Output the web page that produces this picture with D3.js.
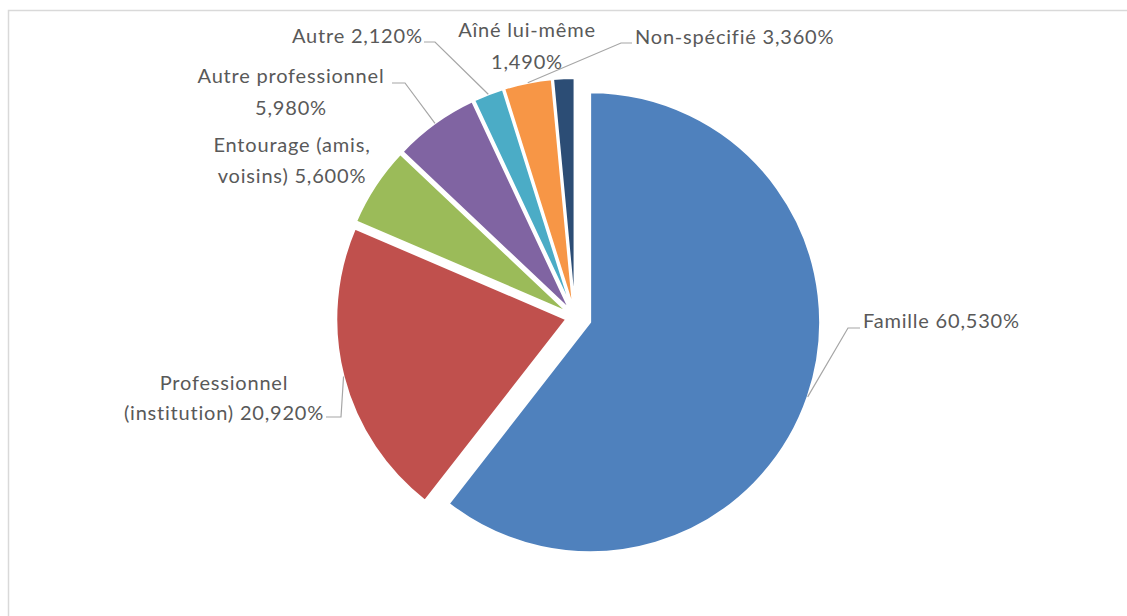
<!DOCTYPE html>
<html>
<head>
<meta charset="utf-8">
<script src="https://cdn.jsdelivr.net/npm/d3@7"></script>
<style>
  html, body { margin: 0; padding: 0; background: #ffffff; }
  svg { display: block; }
</style>
</head>
<body>
<svg id="chart" width="1127" height="616"></svg>
<script>
// ---- data ----
const categories = ["Famille", "Professionnel (institution)", "Entourage (amis, voisins)", "Autre professionnel", "Autre", "Non-spécifié", "Aîné lui-même"];
const values = [60.53, 20.92, 5.60, 5.98, 2.12, 3.36, 1.49];
const labelLines = [["Famille"], ["Professionnel", "(institution)"], ["Entourage (amis,", "voisins)"], ["Autre professionnel"], ["Autre"], ["Non-spécifié"], ["Aîné lui-même"]];
const colors = ["#4F81BD", "#C0504D", "#9BBB59", "#8064A2", "#4BACC6", "#F79646", "#2C4D75"];

// ---- layout ----
const W = 1127, H = 616;
const cx = 575, cy = 317, R = 230;
const explode = [16, 9, 9, 9, 9, 9, 9];
const labelLayout = [
  {x: 863, y: 328, anchor: "start", gap: 0, valueNewLine: false, leader: [[848, 328], [860, 328]]},
  {x: 224, y: 390, anchor: "middle", gap: 30, valueNewLine: false, leader: [[341, 417], [326, 417]]},
  {x: 292, y: 152, anchor: "middle", gap: 31, valueNewLine: false, leader: null},
  {x: 291, y: 83, anchor: "middle", gap: 32, valueNewLine: true, leader: [[405, 83], [392, 83]]},
  {x: 292, y: 43, anchor: "start", gap: 0, valueNewLine: false, leader: [[435, 42], [424, 42]]},
  {x: 635, y: 44, anchor: "start", gap: 0, valueNewLine: false, leader: [[621, 43], [632, 43]]},
  {x: 527, y: 37, anchor: "middle", gap: 32, valueNewLine: true, leader: null}
];

const fr = d3.formatLocale({decimal: ",", thousands: " ", grouping: [3], currency: ["", " €"]});
const fmt = v => fr.format(".3f")(v) + "%";

const svg = d3.select("#chart");

svg.append("rect")
  .attr("x", 8.5).attr("y", 10.5)
  .attr("width", W + 20).attr("height", H + 20)
  .attr("fill", "none").attr("stroke", "#d9d9d9").attr("stroke-width", 1.5);

const data = categories.map((c, i) => ({name: c, value: values[i], i}));
const pie = d3.pie().sort(null).value(d => d.value).startAngle(0).endAngle(2 * Math.PI);
const arcs = pie(data);
const arc = d3.arc().innerRadius(0).outerRadius(R);

function offset(a, e) {
  const m = (a.startAngle + a.endAngle) / 2;
  return [Math.sin(m) * e, -Math.cos(m) * e];
}

const g = svg.append("g").attr("transform", `translate(${cx},${cy})`);
g.selectAll("path.slice")
  .data(arcs)
  .join("path")
  .attr("class", "slice")
  .attr("d", arc)
  .attr("transform", d => { const o = offset(d, explode[d.index]); return `translate(${o[0]},${o[1]})`; })
  .attr("fill", d => colors[d.index])
  .attr("stroke", "#ffffff")
  .attr("stroke-width", 2)
  .attr("stroke-linejoin", "round");

arcs.forEach(d => {
  const L = labelLayout[d.index];
  if (!L.leader) return;
  const o = offset(d, explode[d.index]);
  const m = (d.startAngle + d.endAngle) / 2;
  const px = cx + o[0] + Math.sin(m) * R;
  const py = cy + o[1] - Math.cos(m) * R;
  const pts = [[px, py]].concat(L.leader);
  svg.append("path")
    .attr("d", d3.line()(pts))
    .attr("fill", "none")
    .attr("stroke", "#a6a6a6")
    .attr("stroke-width", 1.2);
});

arcs.forEach(d => {
  const L = labelLayout[d.index];
  let lines = labelLines[d.index].slice();
  const v = fmt(d.data.value);
  if (L.valueNewLine) lines.push(v);
  else lines[lines.length - 1] = lines[lines.length - 1] + " " + v;
  const t = svg.append("text")
    .attr("x", L.x).attr("y", L.y)
    .attr("text-anchor", L.anchor)
    .attr("font-family", "Lato, 'Open Sans', sans-serif")
    .attr("font-size", 20)
    .attr("letter-spacing", 0.8)
    .attr("fill", "#595959");
  lines.forEach((s, k) => {
    t.append("tspan").attr("x", L.x).attr("y", L.y + k * L.gap).text(s);
  });
});
</script>
</body>
</html>
